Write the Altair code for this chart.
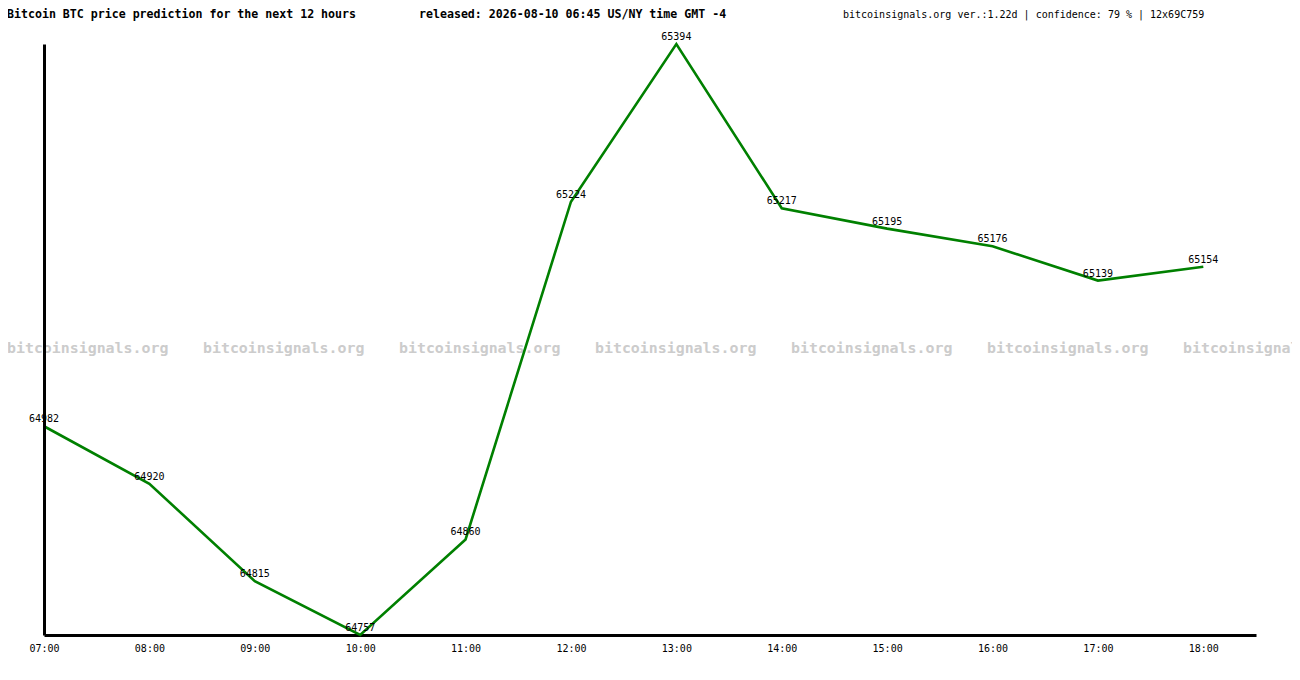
import json
import altair as alt
import pandas as pd

hours = ["07:00", "08:00", "09:00", "10:00", "11:00", "12:00",
         "13:00", "14:00", "15:00", "16:00", "17:00", "18:00"]
prices = [64982, 64920, 64815, 64757, 64860, 65224,
          65394, 65217, 65195, 65176, 65139, 65154]

title_left = "Bitcoin BTC price prediction for the next 12 hours"
title_mid = "released: 2026-08-10 06:45 US/NY time GMT -4"
title_right = "bitcoinsignals.org ver.:1.22d | confidence: 79 % | 12x69C759"
watermark = "bitcoinsignals.org"

df = pd.DataFrame({"i": list(range(len(hours))), "hour": hours, "price": prices})
one = pd.DataFrame({"a": [0]})

W, H = 1212, 591
MONO = "DejaVu Sans Mono"

x = alt.X(
    "i:Q",
    scale=alt.Scale(domain=[0, len(hours) - 0.5], nice=False, zero=False),
    axis=alt.Axis(
        values=list(range(len(hours))),
        labelExpr=json.dumps(hours) + "[datum.value]",
        title=None, grid=False, ticks=False,
        domainColor="black", domainWidth=3,
        labelFont=MONO, labelFontSize=10, labelColor="black",
        labelPadding=8, labelFlush=False, labelOverlap=False,
    ),
)
y = alt.Y(
    "price:Q",
    scale=alt.Scale(domain=[min(prices), max(prices)], nice=False, zero=False),
    axis=alt.Axis(labels=False, ticks=False, grid=False, title=None,
                  domainColor="black", domainWidth=3, zindex=1),
)

layers = []
for k in range(7):
    layers.append(
        alt.Chart(one).mark_text(
            text=watermark, font=MONO, fontSize=14.9, fontWeight="bold",
            color="#cccccc", align="left", baseline="middle",
        ).encode(x=alt.value(-37 + 196 * k), y=alt.value(305))
    )

line = alt.Chart(df).mark_line(color="#008000", strokeWidth=2.6).encode(x=x, y=y)
labels = alt.Chart(df).mark_text(
    font=MONO, fontSize=10, color="black", align="center",
    baseline="alphabetic", dy=-4,
).encode(x=x, y=y, text="price:Q")

t1 = alt.Chart(one).mark_text(
    text=title_left, font=MONO, fontSize=11.6, fontWeight="bold",
    color="black", align="left", baseline="middle",
).encode(x=alt.value(-37), y=alt.value(-29))
t2 = alt.Chart(one).mark_text(
    text=title_mid, font=MONO, fontSize=11.6, fontWeight="bold",
    color="black", align="left", baseline="middle",
).encode(x=alt.value(375), y=alt.value(-29))
t3 = alt.Chart(one).mark_text(
    text=title_right, font=MONO, fontSize=10,
    color="black", align="left", baseline="middle",
).encode(x=alt.value(799), y=alt.value(-29))

chart = alt.layer(*layers, line, labels, t1, t2, t3).properties(
    width=W, height=H,
    autosize=alt.AutoSizeParams(type="none"),
    padding={"left": 36, "top": 36, "right": 36, "bottom": 30},
    background="white",
).configure_view(stroke=None)

chart.save("out.html", embed_options={"renderer": "svg", "actions": False})
